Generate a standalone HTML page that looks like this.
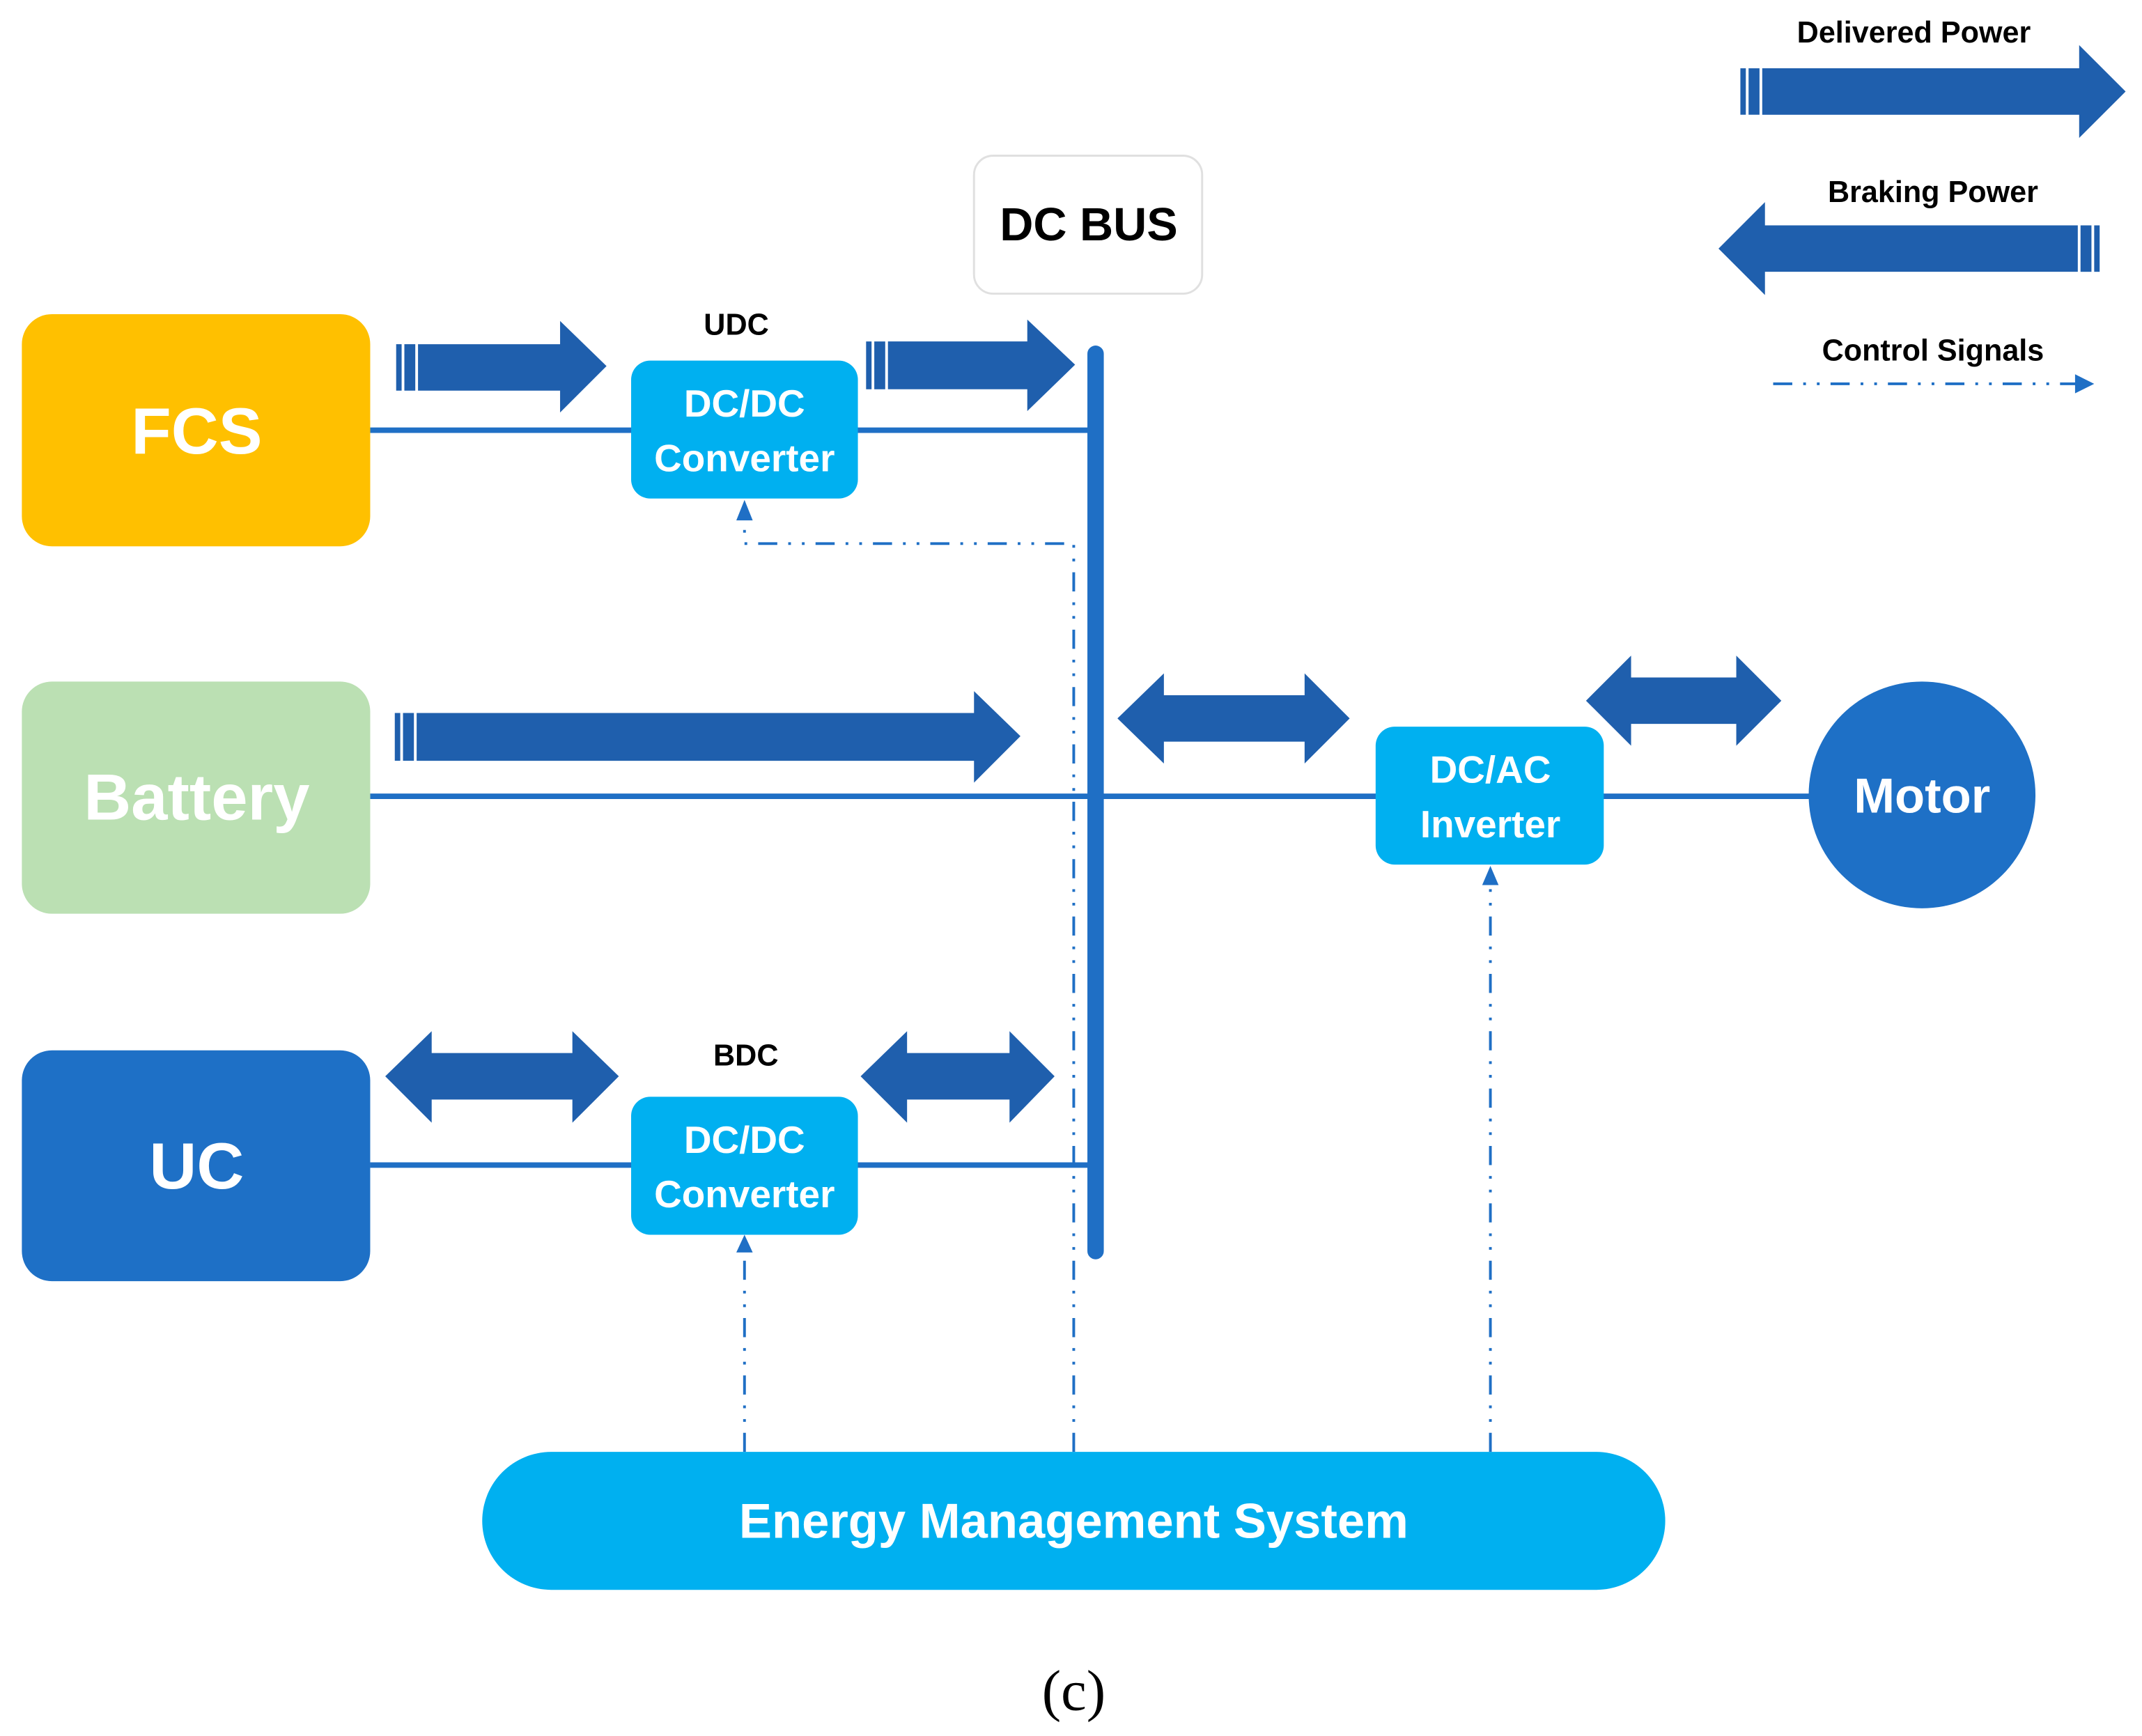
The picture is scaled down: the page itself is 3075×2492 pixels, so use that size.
<!DOCTYPE html>
<html><head><meta charset="utf-8"><style>
html,body{margin:0;padding:0;background:#fff;}
svg{display:block;}
text{font-family:"Liberation Sans",sans-serif;font-weight:bold;}
</style></head><body>
<svg width="3075" height="2492" viewBox="0 0 1568 1271" preserveAspectRatio="none" xmlns="http://www.w3.org/2000/svg">
<rect width="1568" height="1271" fill="#fff"/>

<g stroke="#1F6FC5" stroke-width="4">
<line x1="271" y1="315" x2="798" y2="315"/>
<line x1="271" y1="583" x2="1325" y2="583"/>
<line x1="271" y1="853" x2="798" y2="853"/>
</g>
<line x1="802" y1="259" x2="802" y2="916" stroke="#1F6FC5" stroke-width="12" stroke-linecap="round"/>

<rect x="16" y="230" width="255" height="170" rx="22" fill="#FFC000"/>
<text x="144" y="332" font-size="48" fill="#fff" text-anchor="middle">FCS</text>
<rect x="16" y="499" width="255" height="170" rx="22" fill="#BBE0B3"/>
<text x="144" y="600" font-size="48" fill="#fff" text-anchor="middle">Battery</text>
<rect x="16" y="769" width="255" height="169" rx="22" fill="#1E70C6"/>
<text x="144" y="870" font-size="48" fill="#fff" text-anchor="middle">UC</text>

<g fill="#00B0F0">
<rect x="462" y="264" width="166" height="101" rx="14"/>
<rect x="462" y="803" width="166" height="101" rx="14"/>
<rect x="1007" y="532" width="167" height="101" rx="14"/>
</g>
<g font-size="28" fill="#fff" text-anchor="middle">
<text x="545" y="305">DC/DC</text><text x="545" y="345">Converter</text>
<text x="545" y="844">DC/DC</text><text x="545" y="884">Converter</text>
<text x="1091" y="573">DC/AC</text><text x="1091" y="613">Inverter</text>
</g>
<circle cx="1407" cy="582" r="83" fill="#1E70C6"/>
<text x="1407" y="595" font-size="36" fill="#fff" text-anchor="middle">Motor</text>

<rect x="713" y="114" width="167" height="101" rx="14" fill="#fff" stroke="#e0e0e0" stroke-width="1.5"/>
<text x="797" y="176" font-size="34" fill="#000" text-anchor="middle">DC BUS</text>

<text x="539" y="245" font-size="22" fill="#000" text-anchor="middle">UDC</text>
<text x="546" y="780" font-size="22" fill="#000" text-anchor="middle">BDC</text>

<g fill="#1F5FAD">
<rect x="290" y="252" width="4" height="34"/><rect x="296" y="252" width="8" height="34"/>
<polygon points="306,252 410,252 410,235 444,268 410,302 410,286 306,286"/>
<rect x="634" y="250" width="4" height="35"/><rect x="640" y="250" width="8" height="35"/>
<polygon points="650,250 752,250 752,234 787,267 752,301 752,285 650,285"/>
<rect x="289" y="522" width="4" height="35"/><rect x="295" y="522" width="8" height="35"/>
<polygon points="305,522 713,522 713,506 747,539 713,573 713,557 305,557"/>
<polygon points="818,526 852,493 852,509 955,509 955,493 988,526 955,559 955,543 852,543 852,559"/>
<polygon points="1161,513 1194,480 1194,496 1271,496 1271,480 1304,513 1271,546 1271,530 1194,530 1194,546"/>
<polygon points="282,788 316,755 316,771 419,771 419,755 453,788 419,822 419,805 316,805 316,822"/>
<polygon points="630,788 664,755 664,771 739,771 739,755 772,788 739,822 739,805 664,805 664,822"/>
<rect x="1274" y="50" width="4" height="34"/><rect x="1280" y="50" width="8" height="34"/>
<polygon points="1290,50 1522,50 1522,33 1556,67 1522,101 1522,84 1290,84"/>
<polygon points="1258,182 1292,148 1292,165 1521,165 1521,199 1292,199 1292,216"/>
<rect x="1523" y="165" width="8" height="34"/><rect x="1533" y="165" width="4" height="34"/>
</g>

<g stroke="#1F6FC5" stroke-width="2" fill="none" stroke-dasharray="14,8,2,8,2,8">
<path d="M545,1063 L545,916"/>
<path d="M786,1063 L786,398 L545,398 L545,380"/>
<path d="M1091,1063 L1091,646"/>
<path d="M1298,281 L1520,281"/>
</g>
<g fill="#1F6FC5">
<polygon points="545,904 539,917 551,917"/>
<polygon points="545,366 539,381 551,381"/>
<polygon points="1091,634 1085,648 1097,648"/>
<polygon points="1533,281 1519,274 1519,288"/>
</g>

<text x="1401" y="31" font-size="22" fill="#000" text-anchor="middle">Delivered Power</text>
<text x="1415" y="148" font-size="22" fill="#000" text-anchor="middle">Braking Power</text>
<text x="1415" y="264" font-size="22" fill="#000" text-anchor="middle">Control Signals</text>

<rect x="353" y="1063" width="866" height="101" rx="50.5" fill="#00B0F0"/>
<text x="786" y="1126" font-size="36" fill="#fff" text-anchor="middle">Energy Management System</text>

<text x="786" y="1252" font-size="42" fill="#000" text-anchor="middle" style="font-family:'Liberation Serif',serif;font-weight:normal">(c)</text>
</svg>
</body></html>
